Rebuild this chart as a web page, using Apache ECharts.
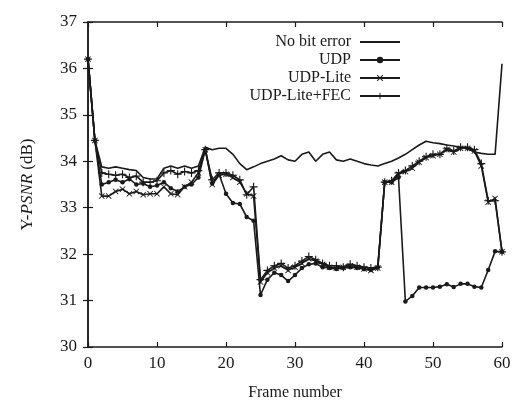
<!DOCTYPE html>
<html>
<head>
<meta charset="utf-8">
<script src="https://cdn.jsdelivr.net/npm/echarts@6/dist/echarts.min.js"></script>
<style>
  html, body { margin: 0; padding: 0; background: #fff; }
  #main { width: 512px; height: 401px; }
</style>
</head>
<body>
<div id="main"></div>
<script>
  // frame index (x) and Y-PSNR (dB) per series
  var frames = [0, 1, 2, 3, 4, 5, 6, 7, 8, 9,
    10, 11, 12, 13, 14, 15, 16, 17, 18, 19,
    20, 21, 22, 23, 24, 25, 26, 27, 28, 29,
    30, 31, 32, 33, 34, 35, 36, 37, 38, 39,
    40, 41, 42, 43, 44, 45, 46, 47, 48, 49,
    50, 51, 52, 53, 54, 55, 56, 57, 58, 59, 60];

  var noBitError = [36.2, 34.45, 33.88, 33.85, 33.88, 33.85, 33.82, 33.8, 33.65, 33.62,
    33.62, 33.85, 33.9, 33.85, 33.9, 33.85, 33.9, 34.3, 34.25, 34.28,
    34.28, 34.15, 33.95, 33.82, 33.88, 33.95, 34.0, 34.05, 34.12, 34.03,
    34.0, 34.15, 34.2, 34.0, 34.15, 34.2, 34.03, 34.0, 34.05, 34.0,
    33.95, 33.92, 33.9, 33.95, 34.0, 34.07, 34.15, 34.25, 34.35, 34.43,
    34.4, 34.38, 34.35, 34.33, 34.3, 34.27, 34.2, 34.17, 34.15, 34.15, 36.1];

  var udp = [36.2, 34.45, 33.5, 33.55, 33.6, 33.55, 33.62, 33.5, 33.52, 33.45,
    33.48, 33.55, 33.42, 33.35, 33.45, 33.5, 33.65, 34.25, 33.52, 33.72,
    33.3, 33.1, 33.08, 32.8, 32.72, 31.12, 31.45, 31.6, 31.55, 31.42,
    31.55, 31.7, 31.78, 31.8, 31.72, 31.7, 31.68, 31.7, 31.72, 31.7,
    31.68, 31.66, 31.72, 33.55, 33.55, 33.65, 30.98, 31.1, 31.28, 31.28,
    31.28, 31.3, 31.35, 31.29, 31.36, 31.36, 31.3, 31.28, 31.66, 32.06, 32.05];

  var udpLite = [36.2, 34.45, 33.25, 33.25, 33.35, 33.4, 33.3, 33.35, 33.28, 33.3,
    33.3, 33.45, 33.3, 33.28, 33.45, 33.55, 33.75, 34.25, 33.5, 33.7,
    33.72, 33.65, 33.55, 33.3, 33.25, 31.4, 31.6, 31.7, 31.75, 31.65,
    31.72, 31.8, 31.9, 31.85, 31.78, 31.72, 31.7, 31.72, 31.75, 31.72,
    31.68, 31.65, 31.7, 33.55, 33.55, 33.72, 33.78, 33.85, 33.98, 34.08,
    34.12, 34.15, 34.25, 34.2, 34.28, 34.28, 34.22, 33.9, 33.12, 33.2, 32.05];

  var udpLiteFec = [36.2, 34.45, 33.75, 33.72, 33.7, 33.72, 33.65, 33.68, 33.55, 33.55,
    33.58, 33.75, 33.8, 33.72, 33.78, 33.75, 33.8, 34.25, 33.6, 33.75,
    33.75, 33.7, 33.6, 33.28, 33.45, 31.45, 31.65, 31.75, 31.8, 31.7,
    31.75, 31.85, 31.95, 31.88, 31.8, 31.75, 31.75, 31.72, 31.78, 31.75,
    31.72, 31.7, 31.72, 33.55, 33.58, 33.75, 33.8, 33.9, 34.0, 34.1,
    34.15, 34.15, 34.28, 34.22, 34.3, 34.3, 34.25, 33.95, 33.15, 33.15, 32.05];

  var xTicks = [0, 10, 20, 30, 40, 50, 60];
  var yTicks = [30, 31, 32, 33, 34, 35, 36, 37];

  function pairs(vals) {
    return frames.map(function (f, i) { return [f, vals[i]]; });
  }

  var ink = '#1a1a1a';
  var serif = '"Liberation Serif", "DejaVu Serif", serif';
  var plusPath = 'path://M4.3,0H5.7V10H4.3ZM0,4.3H10V5.7H0Z';
  var crossPath = 'path://M1,0L5,4L9,0L10,1L6,5L10,9L9,10L5,6L1,10L0,9L4,5L0,1Z';
  var plainLine = 'path://M0,0H22V1H0Z';

  var mychart = echarts.init(document.getElementById('main'), null, { renderer: 'canvas' });

  var baseAxis = {
    type: 'value',
    axisLine: { show: true, lineStyle: { color: ink, width: 1.5 } },
    axisTick: { show: true, inside: true, length: 5, lineStyle: { color: ink, width: 1.2 } },
    splitLine: { show: false }
  };

  var option = {
    animation: false,
    backgroundColor: '#fff',
    grid: { left: 88, right: 10, top: 22, bottom: 54, containLabel: false, outerBoundsMode: 'none' },
    legend: {
      orient: 'vertical',
      right: 106,
      top: 29,
      align: 'right',
      itemWidth: 40,
      itemHeight: 8,
      itemGap: 2,
      textStyle: { fontFamily: serif, fontSize: 16, color: ink, padding: [0, 4, 0, 0] },
      data: [{ name: 'No bit error', icon: plainLine }, 'UDP', 'UDP-Lite', 'UDP-Lite+FEC']
    },
    xAxis: [
      Object.assign({}, baseAxis, {
        min: xTicks[0], max: xTicks[xTicks.length - 1], interval: 10,
        position: 'bottom',
        name: 'Frame number',
        nameLocation: 'middle',
        nameGap: 38,
        nameTextStyle: { fontFamily: serif, fontSize: 16, color: ink },
        axisLabel: { fontFamily: serif, fontSize: 17, color: ink, margin: 8 }
      }),
      Object.assign({}, baseAxis, {
        min: xTicks[0], max: xTicks[xTicks.length - 1], interval: 10,
        position: 'top',
        axisLabel: { show: false }
      })
    ],
    yAxis: [
      Object.assign({}, baseAxis, {
        min: yTicks[0], max: yTicks[yTicks.length - 1], interval: 1,
        position: 'left',
        name: '{n|Y-}{i|PSNR}{n| (dB)}',
        nameLocation: 'middle',
        nameGap: 52,
        nameRotate: 90,
        nameTextStyle: {
          rich: {
            n: { fontFamily: serif, fontSize: 17, color: ink },
            i: { fontFamily: serif, fontSize: 17, color: ink, fontStyle: 'italic' }
          }
        },
        axisLabel: { fontFamily: serif, fontSize: 17, color: ink, margin: 11 }
      }),
      Object.assign({}, baseAxis, {
        min: yTicks[0], max: yTicks[yTicks.length - 1], interval: 1,
        position: 'right',
        axisLabel: { show: false }
      })
    ],
    series: [
      {
        name: 'No bit error', type: 'line',
        data: pairs(noBitError),
        symbol: 'none',
        lineStyle: { color: ink, width: 1.6 },
        itemStyle: { color: ink }
      },
      {
        name: 'UDP', type: 'line',
        data: pairs(udp),
        symbol: 'circle', symbolSize: 4.5,
        lineStyle: { color: ink, width: 1.6 },
        itemStyle: { color: ink }
      },
      {
        name: 'UDP-Lite', type: 'line',
        data: pairs(udpLite),
        symbol: crossPath, symbolSize: 6,
        lineStyle: { color: ink, width: 1.6 },
        itemStyle: { color: ink }
      },
      {
        name: 'UDP-Lite+FEC', type: 'line',
        data: pairs(udpLiteFec),
        symbol: plusPath, symbolSize: 8,
        lineStyle: { color: ink, width: 1.6 },
        itemStyle: { color: ink }
      }
    ]
  };

  mychart.setOption(option);
</script>
</body>
</html>
